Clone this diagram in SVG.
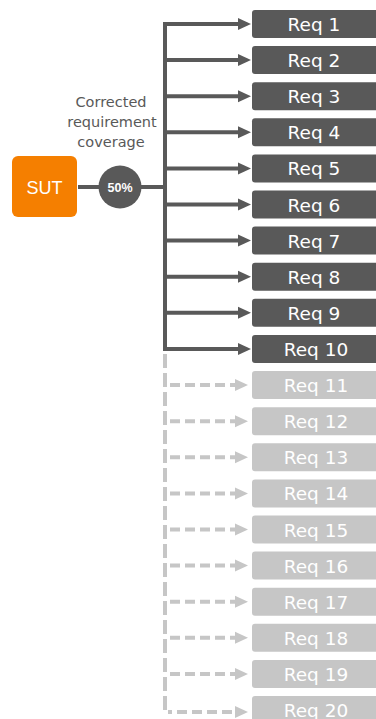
<svg xmlns="http://www.w3.org/2000/svg" width="376" height="719" viewBox="0 0 376 719">
<style>
.dk{fill:#595959}
.lt{fill:#c6c6c6}
.rt{font-family:"DejaVu Sans",sans-serif;font-size:18.5px;fill:#fff;text-anchor:middle}
.sl{stroke:#595959;stroke-width:4;fill:none}
.dl{stroke:#c6c6c6;stroke-width:4;fill:none;stroke-dasharray:10 5}
.cap{font-family:"DejaVu Sans",sans-serif;font-size:14.5px;fill:#595959;text-anchor:middle}
</style>
<defs>
<marker id="ad" markerUnits="userSpaceOnUse" markerWidth="14" markerHeight="14" refX="0" refY="6" orient="auto" viewBox="0 0 14 12"><path d="M0,0 L13,6 L0,12 z" fill="#595959"/></marker>
<marker id="al" markerUnits="userSpaceOnUse" markerWidth="14" markerHeight="14" refX="0" refY="6" orient="auto" viewBox="0 0 14 12"><path d="M0,0 L13,6 L0,12 z" fill="#c6c6c6"/></marker>
</defs>
<g id="connectors">
<line class="sl" x1="78" y1="187" x2="100" y2="187"/>
<line class="sl" x1="140" y1="187" x2="165" y2="187"/>
<path class="sl" d="M165,22 V351"/>
<path d="M165,354 V712 H172" stroke="#c6c6c6" stroke-width="4" fill="none" stroke-dasharray="14 5"/>
<g>
<line class="sl" x1="165" y1="24" x2="238" y2="24" marker-end="url(#ad)"/>
<line class="sl" x1="165" y1="60.1" x2="238" y2="60.1" marker-end="url(#ad)"/>
<line class="sl" x1="165" y1="96.2" x2="238" y2="96.2" marker-end="url(#ad)"/>
<line class="sl" x1="165" y1="132.3" x2="238" y2="132.3" marker-end="url(#ad)"/>
<line class="sl" x1="165" y1="168.4" x2="238" y2="168.4" marker-end="url(#ad)"/>
<line class="sl" x1="165" y1="204.5" x2="238" y2="204.5" marker-end="url(#ad)"/>
<line class="sl" x1="165" y1="240.6" x2="238" y2="240.6" marker-end="url(#ad)"/>
<line class="sl" x1="165" y1="276.7" x2="238" y2="276.7" marker-end="url(#ad)"/>
<line class="sl" x1="165" y1="312.8" x2="238" y2="312.8" marker-end="url(#ad)"/>
<path class="sl" d="M165,347 V349 H238" marker-end="url(#ad)"/>
</g>
<g>
<line class="dl" x1="170" y1="385.1" x2="235" y2="385.1" marker-end="url(#al)"/>
<line class="dl" x1="170" y1="421.2" x2="235" y2="421.2" marker-end="url(#al)"/>
<line class="dl" x1="170" y1="457.3" x2="235" y2="457.3" marker-end="url(#al)"/>
<line class="dl" x1="170" y1="493.4" x2="235" y2="493.4" marker-end="url(#al)"/>
<line class="dl" x1="170" y1="529.5" x2="235" y2="529.5" marker-end="url(#al)"/>
<line class="dl" x1="170" y1="565.6" x2="235" y2="565.6" marker-end="url(#al)"/>
<line class="dl" x1="170" y1="601.7" x2="235" y2="601.7" marker-end="url(#al)"/>
<line class="dl" x1="170" y1="637.8" x2="235" y2="637.8" marker-end="url(#al)"/>
<line class="dl" x1="170" y1="673.9" x2="235" y2="673.9" marker-end="url(#al)"/>
<line class="dl" x1="177" y1="712" x2="235" y2="712" marker-end="url(#al)"/>
</g>
</g>
<g id="sut">
<rect x="12" y="156" width="65" height="61" rx="6" fill="#f57f00"/>
<text x="44.5" y="193.5" font-family="Liberation Sans,sans-serif" font-size="18" fill="#fff" text-anchor="middle">SUT</text>
</g>
<g id="coverage">
<circle cx="120" cy="187" r="21.5" fill="#595959"/>
<text x="120" y="191.5" font-family="Liberation Sans,sans-serif" font-size="12.5" font-weight="bold" fill="#fff" text-anchor="middle">50%</text>
</g>
<g id="label">
<text class="cap" x="111" y="107">Corrected</text>
<text class="cap" x="112" y="127">requirement</text>
<text class="cap" x="111" y="147">coverage</text>
</g>
<g id="req1"><rect class="dk" x="252" y="10" width="128" height="28" rx="3"/><text class="rt" x="314" y="31">Req 1</text></g>
<g id="req2"><rect class="dk" x="252" y="46.1" width="128" height="28" rx="3"/><text class="rt" x="314" y="67.1">Req 2</text></g>
<g id="req3"><rect class="dk" x="252" y="82.2" width="128" height="28" rx="3"/><text class="rt" x="314" y="103.2">Req 3</text></g>
<g id="req4"><rect class="dk" x="252" y="118.3" width="128" height="28" rx="3"/><text class="rt" x="314" y="139.3">Req 4</text></g>
<g id="req5"><rect class="dk" x="252" y="154.4" width="128" height="28" rx="3"/><text class="rt" x="314" y="175.4">Req 5</text></g>
<g id="req6"><rect class="dk" x="252" y="190.5" width="128" height="28" rx="3"/><text class="rt" x="314" y="211.5">Req 6</text></g>
<g id="req7"><rect class="dk" x="252" y="226.6" width="128" height="28" rx="3"/><text class="rt" x="314" y="247.6">Req 7</text></g>
<g id="req8"><rect class="dk" x="252" y="262.7" width="128" height="28" rx="3"/><text class="rt" x="314" y="283.7">Req 8</text></g>
<g id="req9"><rect class="dk" x="252" y="298.8" width="128" height="28" rx="3"/><text class="rt" x="314" y="319.8">Req 9</text></g>
<g id="req10"><rect class="dk" x="252" y="335" width="128" height="28" rx="3"/><text class="rt" x="316" y="356">Req 10</text></g>
<g id="req11"><rect class="lt" x="252" y="371.1" width="128" height="28" rx="3"/><text class="rt" x="316" y="392.1">Req 11</text></g>
<g id="req12"><rect class="lt" x="252" y="407.2" width="128" height="28" rx="3"/><text class="rt" x="316" y="428.2">Req 12</text></g>
<g id="req13"><rect class="lt" x="252" y="443.3" width="128" height="28" rx="3"/><text class="rt" x="316" y="464.3">Req 13</text></g>
<g id="req14"><rect class="lt" x="252" y="479.4" width="128" height="28" rx="3"/><text class="rt" x="316" y="500.4">Req 14</text></g>
<g id="req15"><rect class="lt" x="252" y="515.5" width="128" height="28" rx="3"/><text class="rt" x="316" y="536.5">Req 15</text></g>
<g id="req16"><rect class="lt" x="252" y="551.6" width="128" height="28" rx="3"/><text class="rt" x="316" y="572.6">Req 16</text></g>
<g id="req17"><rect class="lt" x="252" y="587.7" width="128" height="28" rx="3"/><text class="rt" x="316" y="608.7">Req 17</text></g>
<g id="req18"><rect class="lt" x="252" y="623.8" width="128" height="28" rx="3"/><text class="rt" x="316" y="644.8">Req 18</text></g>
<g id="req19"><rect class="lt" x="252" y="659.9" width="128" height="28" rx="3"/><text class="rt" x="316" y="680.9">Req 19</text></g>
<g id="req20"><rect class="lt" x="252" y="696" width="128" height="28" rx="3"/><text class="rt" x="316" y="717">Req 20</text></g>
</svg>
